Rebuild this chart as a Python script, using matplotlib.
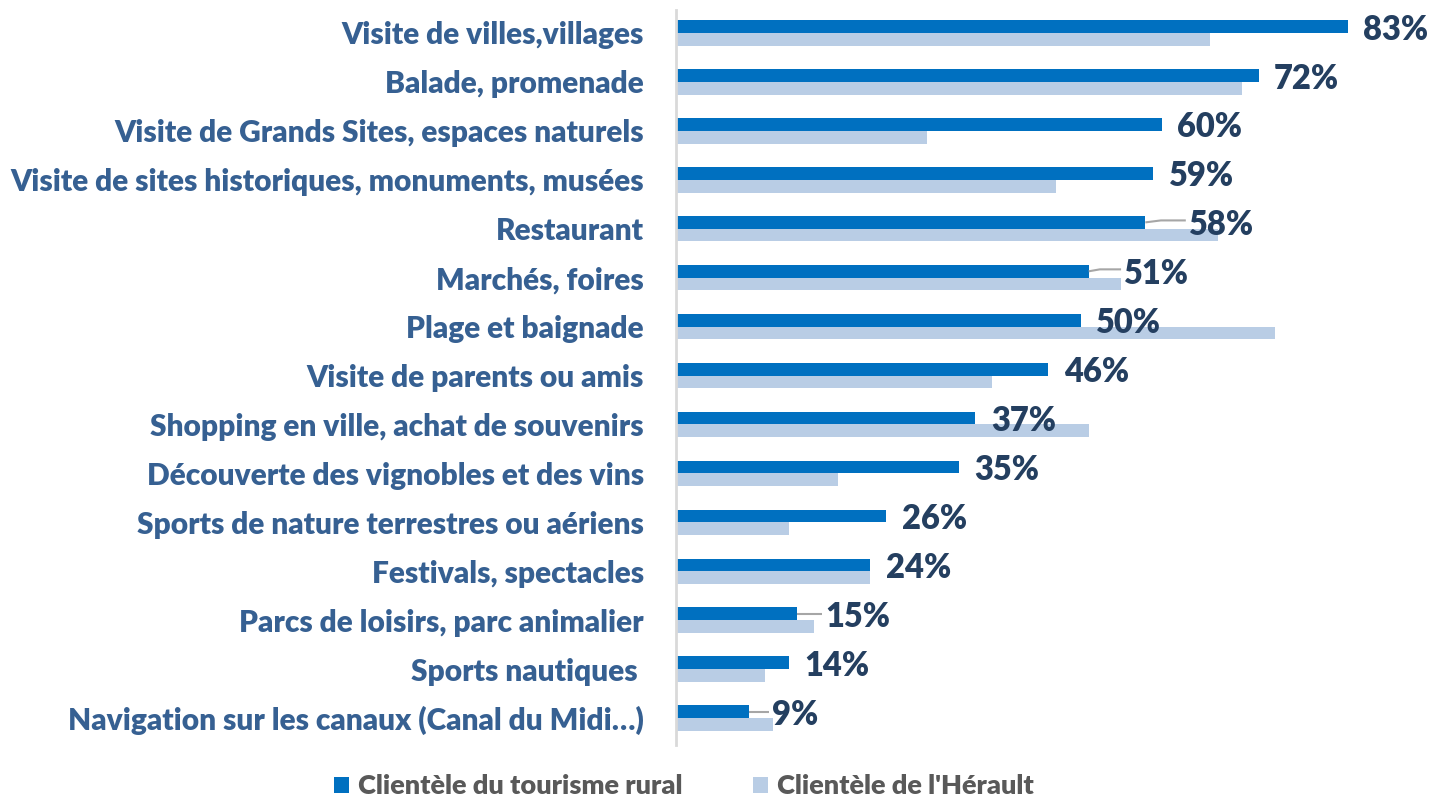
import numpy as np
import matplotlib
matplotlib.use("Agg")
import matplotlib.pyplot as plt

plt.rcParams['font.family'] = ['Lato', 'DejaVu Sans']

categories = [
    "Visite de villes,villages",
    "Balade, promenade",
    "Visite de Grands Sites, espaces naturels",
    "Visite de sites historiques, monuments, musées",
    "Restaurant",
    "Marchés, foires",
    "Plage et baignade",
    "Visite de parents ou amis",
    "Shopping en ville, achat de souvenirs",
    "Découverte des vignobles et des vins",
    "Sports de nature terrestres ou aériens",
    "Festivals, spectacles",
    "Parcs de loisirs, parc animalier",
    "Sports nautiques ",
    "Navigation sur les canaux (Canal du Midi\u2026)",
]
rural = [83, 72, 60, 59, 58, 51, 50, 46, 37, 35, 26, 24, 15, 14, 9]
herault = [66, 70, 31, 47, 67, 55, 74, 39, 51, 20, 14, 24, 17, 11, 12]
series_names = ["Clientèle du tourisme rural", "Clientèle de l'Hérault"]

# labels that Excel pushed aside with a leader line (extra offset, in %)
label_shift = [0, 0, 0, 0, 3.5, 2.5, 0, 0, 0, 0, 0, 0, 1.5, 0, 1.0]

DARK = "#0070C0"
LIGHT = "#B9CDE5"
CAT_COL = "#366092"
VAL_COL = "#243F60"

fig = plt.figure(figsize=(14.31, 8.05), dpi=100)
ax = fig.add_axes([676 / 1431, 60 / 805, 1 - 676 / 1431, 735 / 805])

y = np.arange(len(categories))
h = 0.26
ax.barh(y - h / 2, rural, height=h, color=DARK, label=series_names[0])
ax.barh(y + h / 2, herault, height=h, color=LIGHT, label=series_names[1])

ax.set_xlim(0, 93.3)
ax.set_ylim(14.55, -0.47)

for i, (v, s) in enumerate(zip(rural, label_shift)):
    tx = v + 1.9 + s
    if s > 0:
        yl = i - h / 2 - (0.04 if s > 2 else 0)
        ax.plot([v, v + s * 0.55, tx - 0.4], [i - h / 2, yl, yl],
                color="#A6A6A6", lw=1.5, solid_capstyle="butt")
    ax.text(tx, i - h / 2 + 0.06, f"{v}%", va="center", ha="left",
            fontsize=23.5, fontweight="heavy", color=VAL_COL)

ax.set_yticks(y)
ax.set_yticklabels(categories, fontsize=21.5, fontweight="heavy", color=CAT_COL)
ax.tick_params(axis="y", length=0, pad=23)
ax.set_xticks([])
for sp in ["top", "right", "bottom"]:
    ax.spines[sp].set_visible(False)
ax.spines["left"].set_color("#D9D9D9")
ax.spines["left"].set_linewidth(2)

leg = fig.legend(loc="lower center", bbox_to_anchor=(0.478, -0.022), ncol=2, frameon=False,
                 handlelength=0.55, handleheight=0.55, handletextpad=0.35,
                 columnspacing=2.6, prop={"weight": "heavy", "size": 19.5})
for t in leg.get_texts():
    t.set_color("#595959")

fig.savefig("out.png", dpi=100)
